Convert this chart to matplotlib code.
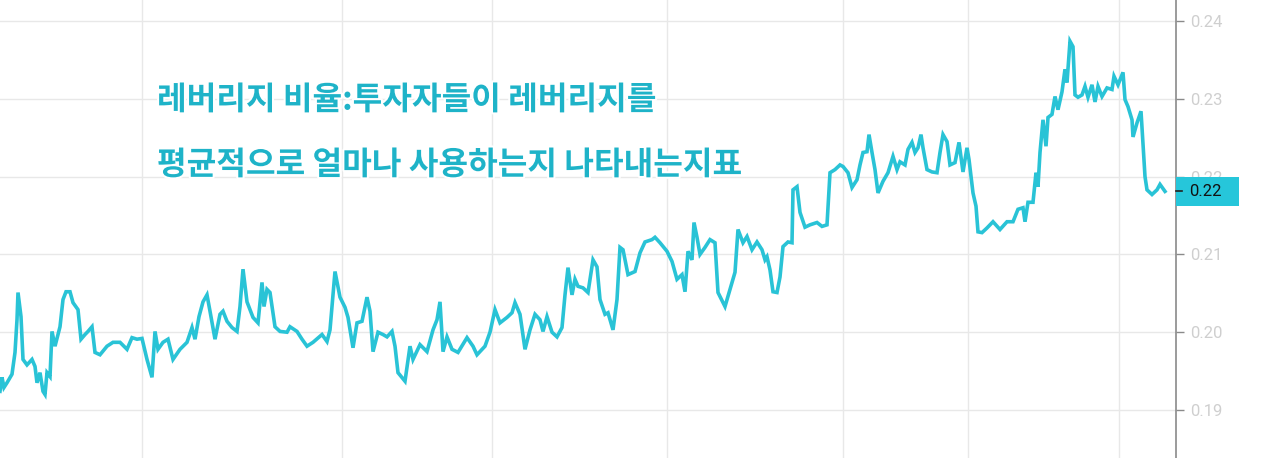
import matplotlib
matplotlib.use("Agg")
import matplotlib.pyplot as plt
import matplotlib.transforms as mtransforms
from matplotlib.patches import Rectangle
import matplotlib.patheffects as pe

# ---- data (bar index, leverage ratio) ----
bar_index = [0, 2, 4, 7, 12, 15, 17, 18, 21, 23, 27, 32, 35, 37, 40, 43, 45, 47, 50, 52,
             55, 60, 63, 66, 70, 73, 78, 81, 85, 88, 92, 95, 100, 107, 113, 120, 127, 132, 137, 142,
             147, 152, 155, 158, 163, 168, 173, 180, 187, 192, 195, 199, 203, 207, 210, 215, 220, 223, 227, 232,
             237, 240, 243, 247, 253, 258, 262, 264, 267, 270, 275, 280, 287, 290, 297, 302, 307, 313, 322, 327,
             330, 335, 340, 345, 348, 353, 357, 362, 367, 370, 373, 378, 383, 387, 392, 395, 398, 405, 410, 413,
             420, 427, 433, 437, 440, 443, 447, 452, 458, 467, 473, 477, 485, 490, 495, 500, 507, 512, 515, 520,
             525, 530, 535, 540, 543, 547, 552, 557, 562, 565, 568, 572, 575, 578, 583, 588, 593, 597, 600, 605,
             608, 613, 617, 620, 623, 628, 635, 640, 645, 652, 655, 660, 667, 672, 677, 682, 685, 688, 692, 694,
             697, 700, 705, 710, 715, 718, 725, 730, 735, 738, 743, 747, 752, 757, 762, 765, 767, 770, 773, 777,
             780, 783, 788, 792, 793, 797, 800, 805, 810, 817, 822, 827, 830, 835, 840, 843, 848, 852, 857, 860,
             863, 867, 869, 872, 875, 878, 883, 888, 893, 897, 900, 905, 908, 912, 915, 918, 921, 923, 927, 932,
             937, 940, 943, 947, 950, 955, 959, 963, 967, 969, 973, 976, 978, 982, 987, 993, 1000, 1007, 1013, 1018,
             1023, 1025, 1028, 1033, 1036, 1038, 1040, 1043, 1046, 1048, 1052, 1055, 1058, 1062, 1065, 1067, 1070, 1073, 1075, 1078,
             1082, 1085, 1088, 1092, 1095, 1098, 1102, 1107, 1112, 1114, 1118, 1123, 1125, 1128, 1132, 1133, 1137, 1141, 1145, 1147,
             1152, 1157, 1160, 1165]

leverage_ratio = [0.1924, 0.1942, 0.1929, 0.1935, 0.1946, 0.1974, 0.2016, 0.2051, 0.2020, 0.1965,
                  0.1958, 0.1965, 0.1956, 0.1935, 0.1948, 0.1924, 0.1920, 0.1948, 0.1943, 0.2001,
                  0.1982, 0.2007, 0.2042, 0.2052, 0.2052, 0.2038, 0.2029, 0.1991, 0.1997, 0.2001,
                  0.2007, 0.1974, 0.1971, 0.1982, 0.1987, 0.1987, 0.1978, 0.1993, 0.1991, 0.1992,
                  0.1965, 0.1942, 0.2001, 0.1978, 0.1987, 0.1991, 0.1965, 0.1978, 0.1987, 0.2006,
                  0.1991, 0.2020, 0.2039, 0.2048, 0.2027, 0.1991, 0.2023, 0.2027, 0.2014, 0.2006,
                  0.2001, 0.2033, 0.2081, 0.2039, 0.2019, 0.2012, 0.2064, 0.2033, 0.2055, 0.2051,
                  0.2007, 0.2001, 0.2000, 0.2007, 0.2001, 0.1991, 0.1982, 0.1987, 0.1997, 0.1988,
                  0.2003, 0.2078, 0.2045, 0.2032, 0.2019, 0.1980, 0.2012, 0.2014, 0.2045, 0.2027,
                  0.1975, 0.2000, 0.1997, 0.1994, 0.2001, 0.1982, 0.1948, 0.1937, 0.1982, 0.1965,
                  0.1984, 0.1975, 0.2003, 0.2016, 0.2039, 0.1975, 0.1994, 0.1978, 0.1974, 0.1993,
                  0.1982, 0.1971, 0.1982, 0.2000, 0.2029, 0.2012, 0.2019, 0.2025, 0.2038, 0.2023,
                  0.1978, 0.2003, 0.2023, 0.2016, 0.2001, 0.2020, 0.2000, 0.1994, 0.2006, 0.2048,
                  0.2083, 0.2048, 0.2068, 0.2059, 0.2057, 0.2051, 0.2093, 0.2084, 0.2042, 0.2023,
                  0.2025, 0.2003, 0.2042, 0.2109, 0.2106, 0.2074, 0.2078, 0.2102, 0.2116, 0.2119,
                  0.2122, 0.2115, 0.2104, 0.2091, 0.2068, 0.2074, 0.2052, 0.2104, 0.2093, 0.2141,
                  0.2122, 0.2100, 0.2109, 0.2119, 0.2115, 0.2051, 0.2033, 0.2055, 0.2077, 0.2132,
                  0.2115, 0.2123, 0.2106, 0.2116, 0.2106, 0.2093, 0.2097, 0.2080, 0.2052, 0.2051,
                  0.2071, 0.2110, 0.2116, 0.2115, 0.2183, 0.2187, 0.2154, 0.2135, 0.2138, 0.2141,
                  0.2136, 0.2138, 0.2205, 0.2209, 0.2215, 0.2213, 0.2205, 0.2186, 0.2196, 0.2215,
                  0.2231, 0.2232, 0.2254, 0.2231, 0.2209, 0.2179, 0.2194, 0.2205, 0.2226, 0.2209,
                  0.2219, 0.2215, 0.2235, 0.2244, 0.2231, 0.2237, 0.2254, 0.2237, 0.2209, 0.2206,
                  0.2205, 0.2231, 0.2254, 0.2245, 0.2215, 0.2218, 0.2244, 0.2206, 0.2237, 0.2222,
                  0.2179, 0.2162, 0.2129, 0.2128, 0.2134, 0.2142, 0.2132, 0.2142, 0.2142, 0.2158,
                  0.2160, 0.2142, 0.2167, 0.2167, 0.2205, 0.2187, 0.2231, 0.2273, 0.2239, 0.2276,
                  0.2280, 0.2303, 0.2286, 0.2309, 0.2338, 0.2321, 0.2374, 0.2367, 0.2305, 0.2302,
                  0.2305, 0.2316, 0.2302, 0.2318, 0.2296, 0.2316, 0.2303, 0.2314, 0.2312, 0.2329,
                  0.2318, 0.2334, 0.2299, 0.2290, 0.2273, 0.2251, 0.2269, 0.2284, 0.2200, 0.2183,
                  0.2177, 0.2183, 0.2190, 0.2181]

y_ticks = [0.19, 0.20, 0.21, 0.22, 0.23, 0.24]
grid_x = [142, 342, 492, 667, 843, 968, 1119]
last_label = "0.22"

LINE_COLOR = "#29C3D6"
TEXT_COLOR = "#1EB3C8"

W, H = 1280, 458
fig = plt.figure(figsize=(W / 100, H / 100), dpi=100)
fig.patch.set_facecolor("white")
ax = fig.add_axes([0, 0, 1176 / W, 1])
ax.set_facecolor("white")

ax.plot(bar_index, leverage_ratio, color=LINE_COLOR, lw=2.6, solid_joinstyle="miter", zorder=3)

ax.set_xlim(0, 1176)
ax.set_ylim(0.18383, 0.24270)

ax.yaxis.tick_right()
ax.set_yticks(y_ticks)
ax.set_yticklabels([f"{t:.2f}" for t in y_ticks])
ax.set_xticks(grid_x)
ax.tick_params(axis="x", length=0, labelbottom=False)
ax.tick_params(axis="y", direction="out", length=5.5, width=1, color="#8A8A8A",
               pad=5, labelsize=12, labelcolor="#CFCFCF")
for lbl in ax.get_yticklabels():
    lbl.set_fontfamily("Roboto")

ax.grid(True, color="#E8E8E8", lw=1.0)
ax.set_axisbelow(True)
for s in ["top", "left", "bottom"]:
    ax.spines[s].set_visible(False)
ax.spines["right"].set_color("#8A8A8A")
ax.spines["right"].set_linewidth(1.2)

# last value label
last_val = leverage_ratio[-1]
trans = mtransforms.blended_transform_factory(ax.transAxes, ax.transData)
box_h = 29 / 7780
rect = Rectangle((1.0, last_val - box_h / 2), 63 / 1176, box_h, transform=trans,
                 facecolor="#26C6DA", edgecolor="none", clip_on=False, zorder=5)
ax.add_patch(rect)
ax.plot([1.0, 1.0 + 6 / 1176], [last_val, last_val], transform=trans, color="#222222",
        lw=1.2, clip_on=False, zorder=6)
ax.text(1.0 + 13 / 1176, last_val, last_label, transform=trans, ha="left", va="center",
        fontsize=12, color="#111111", family="Roboto", zorder=7, clip_on=False)

# annotation text
fx = ["Noto Sans CJK KR", "DejaVu Sans"]
stroke = [pe.withStroke(linewidth=3, foreground="white")]
fig.text(157 / W, 1 - 100 / H, "레버리지 비율:투자자들이 레버리지를", ha="left", va="center",
         fontsize=23.2, fontweight="bold", color=TEXT_COLOR, family=fx, path_effects=stroke)
fig.text(157 / W, 1 - 165 / H, "평균적으로 얼마나 사용하는지 나타내는지표", ha="left", va="center",
         fontsize=23.2, fontweight="bold", color=TEXT_COLOR, family=fx, path_effects=stroke)

fig.savefig("out.png", dpi=100, facecolor="white")
